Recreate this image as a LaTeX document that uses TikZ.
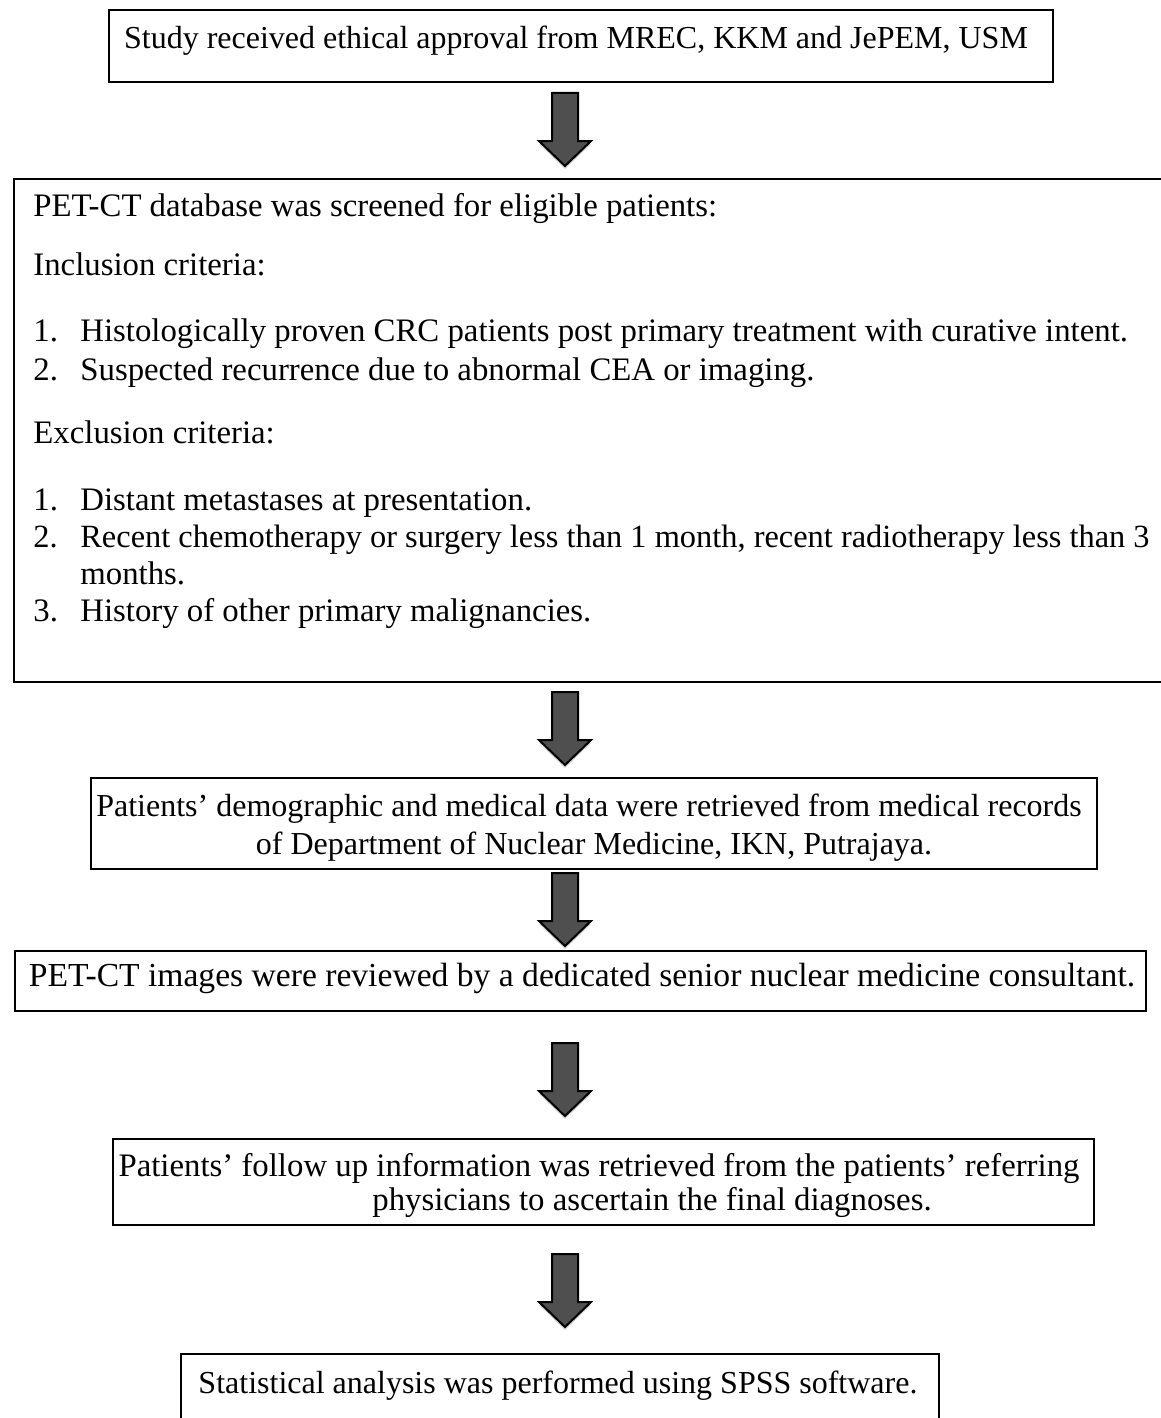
\documentclass[tikz,border=0pt]{standalone}
\usepackage{fontspec}
\setmainfont{Liberation Serif}
\usetikzlibrary{calc,shadows}
\definecolor{arrowgray}{HTML}{4F4F4F}
\newcommand\fs[1]{\fontsize{#1}{20}\selectfont}
\tikzset{
  box/.style={draw, line width=1.2pt, inner sep=0pt, anchor=north west},
  txt/.style={font=\fs{16.2}, inner sep=0pt, anchor=base},
  ltxt/.style={txt, font=\fs{16.4}, anchor=base west},
  fatarrow/.style={fill=arrowgray, draw=black, line width=1pt, line join=miter,
    drop shadow={opacity=0.35, shadow xshift=0pt, shadow yshift=-1.5pt}}
}
\newcommand\bigdown[1]{\filldraw[fatarrow] (#1) ++(-13,0) -- ++(26,0) -- ++(0,48) -- ++(13,0) -- ++(-26,25) -- ++(-26,-25) -- ++(13,0) -- cycle;}
\newcommand\itm[1]{\makebox[23.5pt][l]{#1}}

\begin{document}
\begin{tikzpicture}[x=0.5pt, y=-0.5pt]
    \useasboundingbox (0,0) rectangle (1161,1418);
    \node [box, minimum width=472pt, minimum height=36pt](approval) at (108,9) {};
    \node [txt, font=\fs{16}] (approvaltxt) at (576,49) {Study received ethical approval from MREC, KKM and JePEM, USM};
    \coordinate (a1) at (565,93);
    \bigdown{a1}
    \node [box, minimum width=585pt, minimum height=251.5pt](screen) at (13,178) {};
    \node [ltxt] (s1) at (33,216) {PET-CT database was screened for eligible patients:};
    \node [ltxt] (s2) at (33,275) {Inclusion criteria:};
    \node [ltxt] (s3) at (33,341) {\itm{1.}Histologically proven CRC patients post primary treatment with curative intent.};
    \node [ltxt] (s4) at (33,380) {\itm{2.}Suspected recurrence due to abnormal CEA or imaging.};
    \node [ltxt] (s5) at (33,443) {Exclusion criteria:};
    \node [ltxt] (s6) at (33,510) {\itm{1.}Distant metastases at presentation.};
    \node [ltxt, font=\fs{16.2}] (s7) at (33,547) {\itm{2.}Recent chemotherapy or surgery less than 1 month, recent radiotherapy less than 3};
    \node [ltxt] (s8) at (80,584) {months.};
    \node [ltxt] (s9) at (33,621) {\itm{3.}History of other primary malignancies.};
    \coordinate (a2) at (565,692);
    \bigdown{a2}
    \node [box, minimum width=503pt, minimum height=45.5pt](records) at (90,777) {};
    \node [txt, font=\fs{16}] (r1) at (589,816) {Patients’ demographic and medical data were retrieved from medical records};
    \node [txt, font=\fs{16}] (r2) at (594,854) {of Department of Nuclear Medicine, IKN, Putrajaya.};
    \coordinate (a3) at (565,873);
    \bigdown{a3}
    \node [box, minimum width=565.5pt, minimum height=30pt](review) at (14,950) {};
    \node [txt, font=\fs{16.8}] (rv) at (582,986) {PET-CT images were reviewed by a dedicated senior nuclear medicine consultant.};
    \coordinate (a4) at (565,1043);
    \bigdown{a4}
    \node [box, minimum width=490.5pt, minimum height=43pt](followup) at (112,1138) {};
    \node [txt, font=\fs{16.4}] (f1) at (599,1176) {Patients’ follow up information was retrieved from the patients’ referring};
    \node [txt, font=\fs{16.4}] (f2) at (652,1210) {physicians to ascertain the final diagnoses.};
    \coordinate (a5) at (565,1254);
    \bigdown{a5}
    \node [box, minimum width=379pt, minimum height=50pt](stats) at (180,1353) {};
    \node [txt, font=\fs{16}] (st) at (558,1393) {Statistical analysis was performed using SPSS software.};
  \end{tikzpicture}
\end{document}
